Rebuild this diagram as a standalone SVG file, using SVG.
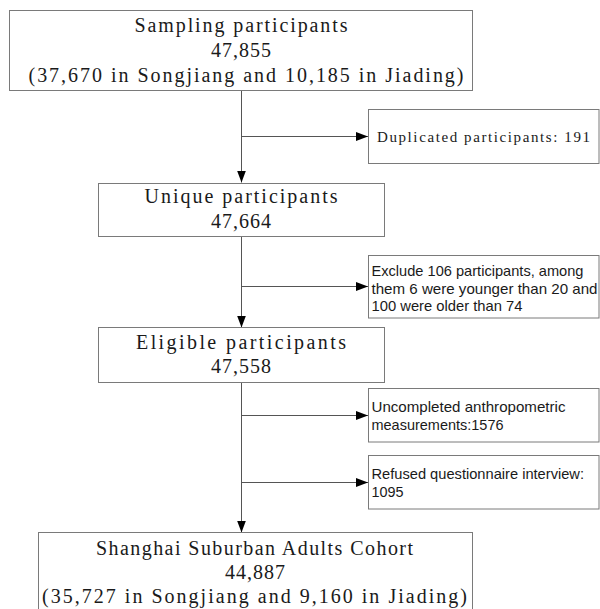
<svg xmlns="http://www.w3.org/2000/svg" width="600" height="609" viewBox="0 0 600 609">
<style>
.box{fill:#fff;stroke:#7a7a7a;stroke-width:1}
.conn{fill:none;stroke:#555;stroke-width:1}
.ser{font-family:"Liberation Serif","Times New Roman",serif;font-size:20px;fill:#1a1a1a}
.sers{font-family:"Liberation Serif","Times New Roman",serif;font-size:15px;fill:#1a1a1a}
.san{font-family:"Liberation Sans",Arial,sans-serif;font-size:15px;fill:#1a1a1a}
</style>
<defs>
<marker id="ah" markerUnits="userSpaceOnUse" markerWidth="12" markerHeight="9" refX="12" refY="4.5" orient="auto">
<path d="M0,0 L12,4.5 L0,9 Z" fill="#000"/>
</marker>
</defs>
<rect width="600" height="609" fill="#fff"/>
<g id="connectors">
<path class="conn" d="M241.5,90.5 V182.5" marker-end="url(#ah)"/>
<path class="conn" d="M241.5,136.5 H368" marker-end="url(#ah)"/>
<path class="conn" d="M241.5,236.5 V327.5" marker-end="url(#ah)"/>
<path class="conn" d="M241.5,286.5 H368" marker-end="url(#ah)"/>
<path class="conn" d="M241.5,382.5 V532.5" marker-end="url(#ah)"/>
<path class="conn" d="M241.5,415.5 H368" marker-end="url(#ah)"/>
<path class="conn" d="M241.5,482.5 H368" marker-end="url(#ah)"/>
</g>
<g id="sampling">
<rect class="box" x="9.5" y="10.5" width="463" height="80"/>
<text class="ser" x="134.5" y="32" textLength="213" lengthAdjust="spacing">Sampling participants</text>
<text class="ser" x="211" y="57" textLength="60" lengthAdjust="spacing">47,855</text>
<text class="ser" x="28.5" y="81.5" textLength="435" lengthAdjust="spacing">(37,670 in Songjiang and 10,185 in Jiading)</text>
</g>
<g id="duplicated">
<rect class="box" x="368.5" y="109.5" width="230.5" height="54"/>
<text class="sers" x="377" y="141.5" textLength="213" lengthAdjust="spacing">Duplicated participants: 191</text>
</g>
<g id="unique">
<rect class="box" x="98.5" y="183.5" width="286" height="53"/>
<text class="ser" x="144.5" y="203" textLength="193" lengthAdjust="spacing">Unique participants</text>
<text class="ser" x="211" y="228" textLength="60" lengthAdjust="spacing">47,664</text>
</g>
<g id="exclude">
<rect class="box" x="368.5" y="255.5" width="230.5" height="62.5"/>
<text class="san" x="371.5" y="275.5" textLength="212" lengthAdjust="spacingAndGlyphs">Exclude 106 participants, among</text>
<text class="san" x="371.5" y="293.5" textLength="226" lengthAdjust="spacingAndGlyphs">them 6 were younger than 20 and</text>
<text class="san" x="371.5" y="311" textLength="151" lengthAdjust="spacingAndGlyphs">100 were older than 74</text>
</g>
<g id="eligible">
<rect class="box" x="98.5" y="327.5" width="286" height="55"/>
<text class="ser" x="136" y="349" textLength="210" lengthAdjust="spacing">Eligible participants</text>
<text class="ser" x="211" y="373" textLength="60" lengthAdjust="spacing">47,558</text>
</g>
<g id="uncompleted">
<rect class="box" x="368.5" y="388.5" width="230.5" height="53.5"/>
<text class="san" x="371.5" y="411.5" textLength="194" lengthAdjust="spacingAndGlyphs">Uncompleted anthropometric</text>
<text class="san" x="371.5" y="429.5" textLength="132" lengthAdjust="spacingAndGlyphs">measurements:1576</text>
</g>
<g id="refused">
<rect class="box" x="368.5" y="455.5" width="230.5" height="53.5"/>
<text class="san" x="371.5" y="478.5" textLength="212.5" lengthAdjust="spacingAndGlyphs">Refused questionnaire interview:</text>
<text class="san" x="371.5" y="497" textLength="32" lengthAdjust="spacingAndGlyphs">1095</text>
</g>
<g id="cohort">
<rect class="box" x="38.5" y="532.5" width="434" height="90"/>
<text class="ser" x="96" y="554.5" textLength="317" lengthAdjust="spacing">Shanghai Suburban Adults Cohort</text>
<text class="ser" x="225" y="578.5" textLength="60" lengthAdjust="spacing">44,887</text>
<text class="ser" x="42" y="603" textLength="425" lengthAdjust="spacing">(35,727 in Songjiang and 9,160 in Jiading)</text>
</g>
</svg>
